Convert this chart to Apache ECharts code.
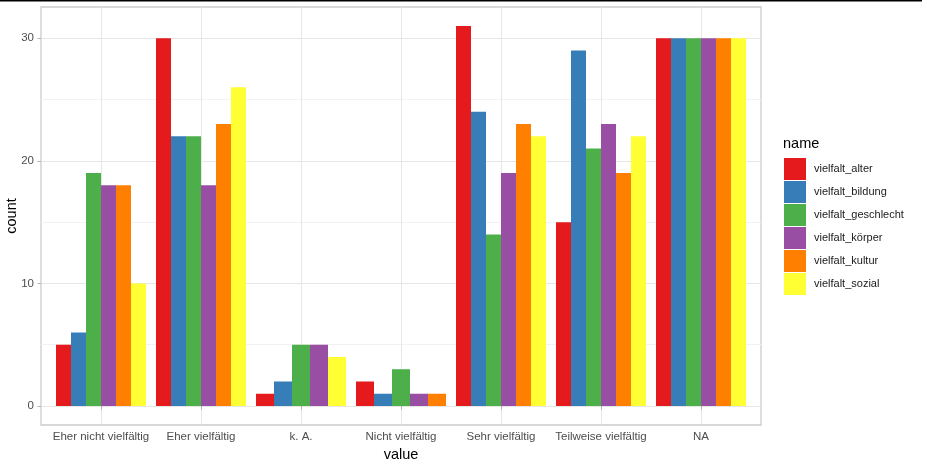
<!DOCTYPE html>
<html>
<head>
<meta charset="utf-8">
<script src="https://cdn.jsdelivr.net/npm/echarts@6/dist/echarts.min.js"></script>
<style>html,body{margin:0;padding:0;background:#fff;}#c{width:927px;height:467px;}</style>
</head>
<body>
<div id="c"></div>
<script>
const categories = ["Eher nicht vielfältig", "Eher vielfältig", "k. A.", "Nicht vielfältig", "Sehr vielfältig", "Teilweise vielfältig", "NA"];
const seriesNames = ["vielfalt_alter", "vielfalt_bildung", "vielfalt_geschlecht", "vielfalt_körper", "vielfalt_kultur", "vielfalt_sozial"];
const vielfalt_alter      = [5, 30, 1, 2, 31, 15, 30];
const vielfalt_bildung    = [6, 22, 2, 1, 24, 29, 30];
const vielfalt_geschlecht = [19, 22, 5, 3, 14, 21, 30];
const vielfalt_koerper    = [18, 18, 5, 1, 19, 23, 30];
const vielfalt_kultur     = [18, 23, null, 1, 23, 19, 30];
const vielfalt_sozial     = [10, 26, 4, null, 22, 22, 30];
const yTicks = [0, 10, 20, 30];
const yMinorTicks = [5, 15, 25];
const colors = ["#E41A1C", "#377EB8", "#4DAF4A", "#984EA3", "#FF7F00", "#FFFF33"];

const allValues = [vielfalt_alter, vielfalt_bildung, vielfalt_geschlecht, vielfalt_koerper, vielfalt_kultur, vielfalt_sozial];
const xTicks = categories.map((c, i) => i + 1);

// dodge positions per category (like ggplot position_dodge)
const nPerCat = categories.map((c, ci) => allValues.filter(a => a[ci] != null).length);
const posOf = allValues.map((arr, si) => arr.map((v, ci) => {
  if (v == null) return null;
  let p = 0;
  for (let k = 0; k < si; k++) if (allValues[k][ci] != null) p++;
  return p;
}));

function renderItem(params, api) {
  const x = api.value(0), v = api.value(1), pos = api.value(2), n = api.value(3);
  const unit = api.size([1, 0])[0];
  const groupW = 0.9 * unit;
  const w = groupW / n;
  const base = api.coord([x, 0]);
  const top = api.coord([x, v]);
  const left = base[0] - groupW / 2 + pos * w;
  return {
    type: 'rect',
    shape: { x: left, y: top[1], width: w, height: base[1] - top[1] },
    style: { fill: api.visual('color') }
  };
}

const series = seriesNames.map((name, si) => ({
  name: name,
  type: 'custom',
  renderItem: renderItem,
  xAxisIndex: 0,
  yAxisIndex: 0,
  itemStyle: { color: colors[si] },
  encode: { x: 0, y: 1 },
  data: allValues[si].map((v, ci) => v == null ? null : [ci + 1, v, posOf[si][ci], nPerCat[ci]]).filter(d => d)
}));

const FONT = "'Liberation Sans', Arial, sans-serif";
const chart = echarts.init(document.getElementById('c'), null, { renderer: 'canvas' });
chart.setOption({
  animation: false,
  backgroundColor: '#ffffff',
  color: colors,
  textStyle: { fontFamily: FONT },
  title: {
    text: 'name', left: 783, top: 136, padding: 0,
    textStyle: { fontFamily: FONT, fontSize: 14.5, fontWeight: 'normal', color: '#000' }
  },
  legend: {
    orient: 'vertical', left: 784, top: 158, padding: 0,
    icon: 'rect', itemWidth: 22, itemHeight: 22, itemGap: 1,
    textStyle: { fontFamily: FONT, fontSize: 11, color: '#1a1a1a', padding: [0, 0, 0, 3] },
    data: seriesNames
  },
  grid: { left: 41, top: 7, right: 166, bottom: 42, show: true, borderColor: '#cccccc', borderWidth: 1.3, backgroundColor: 'transparent', containLabel: false, outerBoundsMode: 'none' },
  graphic: [{ type: 'rect', shape: { x: 0, y: 0, width: 922, height: 1.5 }, style: { fill: '#000' }, z: 100 }],
  xAxis: [{
    type: 'value', min: 0.4, max: 7.6,
    name: 'value', nameLocation: 'middle', nameGap: 18,
    nameTextStyle: { fontFamily: FONT, fontSize: 14.5, color: '#000' },
    axisLine: { show: false },
    axisTick: { show: true, length: 3.5, customValues: xTicks, lineStyle: { color: '#b3b3b3', width: 1 } },
    axisLabel: { customValues: xTicks, margin: 6, fontFamily: FONT, fontSize: 11.5, color: '#4d4d4d', formatter: v => categories[Math.round(v) - 1] },
    splitLine: { show: true, lineStyle: { color: '#e6e6e6', width: 1 } }
  }],
  yAxis: [{
    type: 'value', min: -1.55, max: 32.55,
    name: 'count', nameLocation: 'middle', nameGap: 22, nameMoveOverlap: false,
    nameTextStyle: { fontFamily: FONT, fontSize: 14.5, color: '#000' },
    axisLine: { show: false },
    axisTick: { show: true, length: 3.5, customValues: yTicks, lineStyle: { color: '#b3b3b3', width: 1 } },
    axisLabel: { customValues: yTicks, margin: 7, fontFamily: FONT, fontSize: 11.5, color: '#4d4d4d' },
    splitLine: { show: true, lineStyle: { color: '#e6e6e6', width: 1 } }
  }, {
    type: 'value', min: -1.55, max: 32.55, position: 'left',
    axisLine: { show: false },
    axisTick: { show: true, length: 0, customValues: yMinorTicks, lineStyle: { color: 'rgba(0,0,0,0)' } },
    axisLabel: { show: false, customValues: yMinorTicks },
    splitLine: { show: true, lineStyle: { color: '#f2f2f2', width: 1 } },
    z: 0
  }],
  series: series
});
</script>
</body>
</html>
